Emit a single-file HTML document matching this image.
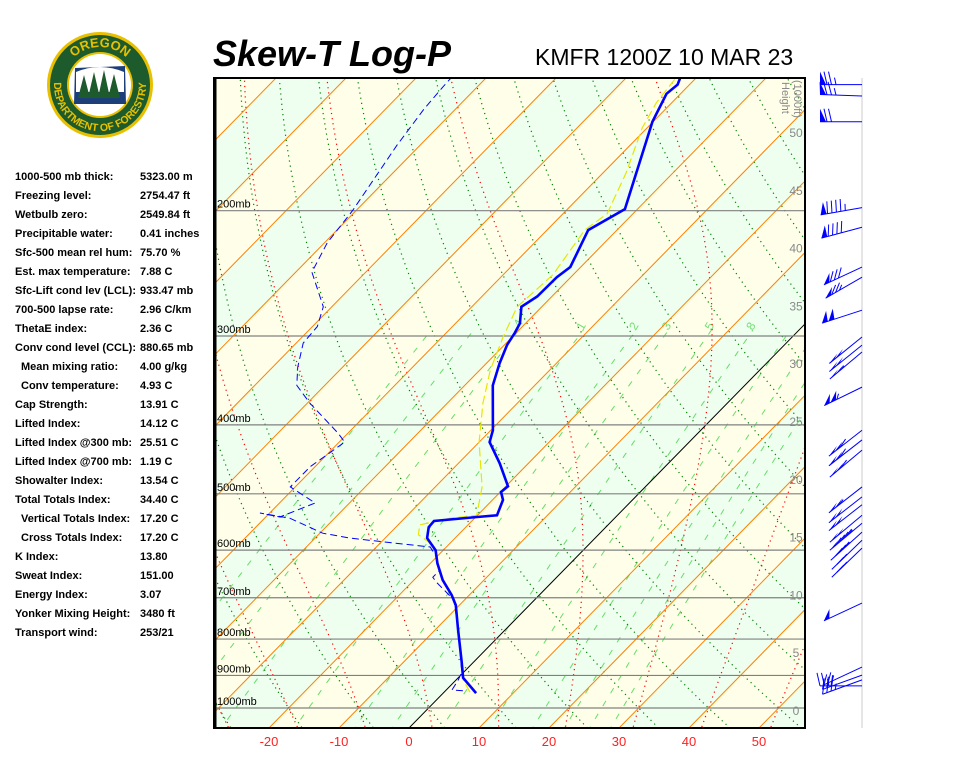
<!DOCTYPE html>
<html><head><meta charset="utf-8"><style>
body{margin:0;background:#fff;width:960px;height:768px;overflow:hidden;font-family:"Liberation Sans",sans-serif}
svg text{font-family:"Liberation Sans",sans-serif}
</style></head><body>
<svg id="chart" width="960" height="768" viewBox="0 0 960 768" xmlns="http://www.w3.org/2000/svg">
<defs>
<clipPath id="plotclip"><rect x="214" y="78" width="591" height="650"/></clipPath>
<path id="ringTop" d="M 62 85 A 38 38 0 0 1 138 85"/>
<path id="ringBot" d="M 56.8 69.3 A 46 46 0 1 0 143.2 69.3"/>
</defs>
<g>
<circle cx="100" cy="85" r="53" fill="#e8c000"/>
<circle cx="100" cy="85" r="50" fill="#1d5a2c"/>
<circle cx="100" cy="85" r="33" fill="#e8c000"/>
<circle cx="100" cy="85" r="31" fill="#fff"/>
<path d="M75 68 L125 66 L126 104 L74 104 Z" fill="#1c3f7a"/>
<path d="M76 72 Q100 62 124 72 L124 92 L76 92 Z" fill="#fff"/>
<path d="M78 98 L84 75 L90 98 Z M88 98 L94 72 L100 98 Z M98 98 L104 70 L110 98 Z M108 98 L114 74 L120 98 Z" fill="#1d5a2c"/>
<text font-size="13" font-weight="bold" fill="#e8c000" text-anchor="middle"><textPath href="#ringTop" startOffset="50%">OREGON</textPath></text>
<text font-size="10.5" font-weight="bold" fill="#e8c000" text-anchor="middle"><textPath href="#ringBot" startOffset="50%">DEPARTMENT OF FORESTRY</textPath></text>
</g>
<text x="213" y="66" font-size="36" font-weight="bold" font-style="italic" fill="#000">Skew-T Log-P</text>
<text x="535" y="65" font-size="23" fill="#000">KMFR 1200Z 10 MAR 23</text>
<g id="stats" font-size="11" font-weight="bold" fill="#000"></g>
<g id="plot" clip-path="url(#plotclip)"></g>
<g id="overlay"></g>
<line x1="862" y1="78" x2="862" y2="728" stroke="#ccc" stroke-width="1"/>
<rect x="214" y="78" width="591" height="650" fill="none" stroke="#000" stroke-width="2"/>
<line x1="215" y1="78" x2="215" y2="728" stroke="#000" stroke-width="3"/>
<g id="barbs"></g>
</svg>
<script>
// ---- data ----
const isobars = [1000, 900, 800, 700, 600, 500, 400, 300, 200];
const tempTicks = [-20, -10, 0, 10, 20, 30, 40, 50];
const heightTicks = [0, 5, 10, 15, 20, 25, 30, 35, 40, 45, 50];
const mixRatios = [0.1, 0.2, 0.4, 1, 2, 3, 5, 8, 12, 16, 20, 24];
const mixLabels = [0.4, 1, 2, 3, 5, 8];
const tempP = [953,907,862,777,717,694,661,626,600,577,557,546,539,536,510,497,488,453,423,407,352,328,309,297,288,273,264,248,240,213,199,150,137,133,130];
const tempT = [4.7,0.7,-1.7,-6.7,-10.5,-12.5,-15.9,-19.0,-21.1,-24.0,-25.3,-25.4,-19.8,-17.2,-18.5,-19.9,-19.7,-24.1,-28.5,-29.7,-36.0,-38.1,-39.6,-40.2,-40.8,-42.9,-42.1,-42.0,-41.5,-44.1,-41.8,-50.1,-52.0,-51.7,-52.3];
const dewP = [946,943,913,890,777,705,667,655,640,610,594,584,577,568,541,532,539,515,489,458,423,411,373,352,332,307,291,273,244,222,200,162,144,134,130];
const dewT = [2.5,0.8,0.3,-0.3,-6.7,-11.5,-16.3,-17.7,-17.7,-20.4,-22.3,-29.8,-35.0,-39.6,-46.4,-51.4,-48.0,-44.9,-50.7,-50.7,-49.2,-51.4,-59.6,-64.0,-66.4,-69.0,-69.3,-71.2,-77.7,-79.6,-80.5,-83.3,-84.5,-84.9,-85.0];
const wbP = [950,913,862,777,717,694,661,626,604,584,571,553,541,536,489,423,373,335,301,273,246,213,202,177,153,141,130];
const wbT = [3.7,1.0,-1.7,-6.7,-10.5,-12.5,-15.9,-19.0,-20.7,-23.3,-25.7,-26.9,-23.5,-20.1,-23.3,-30.0,-34.9,-38.5,-41.3,-43.5,-42.9,-44.6,-43.7,-46.7,-50.7,-52.2,-52.9];
const barbP = [133,138,150,198,211,240,248,276,301,309,316,354,407,420,434,489,505,518,536,550,566,581,596,712,876,899,913,931];
const barbDir = [270,272,270,260,255,245,240,252,231,231,230,244,232,232,230,232,232,232,230,230,228,226,226,245,245,250,250,270];
const barbSpd = [75,75,70,95,90,80,75,100,100,100,105,105,110,110,110,105,100,100,100,95,85,75,70,50,25,30,35,25];
const statLabels = ["1000-500 mb thick:","Freezing level:","Wetbulb zero:","Precipitable water:","Sfc-500 mean rel hum:","Est. max temperature:","Sfc-Lift cond lev (LCL):","700-500 lapse rate:","ThetaE index:","Conv cond level (CCL):","Mean mixing ratio:","Conv temperature:","Cap Strength:","Lifted Index:","Lifted Index @300 mb:","Lifted Index @700 mb:","Showalter Index:","Total Totals Index:","Vertical Totals Index:","Cross Totals Index:","K Index:","Sweat Index:","Energy Index:","Yonker Mixing Height:","Transport wind:"];
const statValues = ["5323.00 m","2754.47 ft","2549.84 ft","0.41 inches","75.70 %","7.88 C","933.47 mb","2.96 C/km","2.36 C","880.65 mb","4.00 g/kg","4.93 C","13.91 C","14.12 C","25.51 C","1.19 C","13.54 C","34.40 C","17.20 C","17.20 C","13.80","151.00","3.07","3480 ft","253/21"];
const statIndent = [0,0,0,0,0,0,0,0,0,0,1,1,0,0,0,0,0,0,1,1,0,0,0,0,0];

// ---- axes ----
const NS = "http://www.w3.org/2000/svg";
const Y = p => 708 + 309 * Math.log(p / 1000);
const X = (T, p) => 409 + 7 * T + 0.98 * (728 - Y(p));
const HY = h => 711 - 11.56 * h;
const plot = document.getElementById('plot');
const overlay = document.getElementById('overlay');
function mk(tag, attrs, parent) { const e = document.createElementNS(NS, tag); for (const k in attrs) e.setAttribute(k, attrs[k]); parent.appendChild(e); return e; }
function pathFrom(ps, ts) { return ps.map((p, i) => (i ? 'L' : 'M') + X(ts[i], p).toFixed(1) + ' ' + Y(p).toFixed(1)).join(' '); }
const pSamples = []; for (let lp = Math.log(1080); lp > Math.log(120); lp -= 0.02) pSamples.push(Math.exp(lp));

// stats panel
const stats = document.getElementById('stats');
statLabels.forEach((lab, i) => {
  const y = 180 + i * 19;
  const t1 = mk('text', { x: statIndent[i] ? 21 : 15, y: y }, stats); t1.textContent = lab;
  
  
  const t2 = mk('text', { x: 140, y: y }, stats); t2.textContent = statValues[i];
  
  
});

// background bands
for (let t = -130; t < 60; t += 10) {
  const k = Math.round(t / 10);
  const col = (k % 2 === 0) ? '#ffffe9' : '#eefff0';
  const pt = 120, pb = 1080;
  const d = `M${X(t,pb)} ${Y(pb)} L${X(t+10,pb)} ${Y(pb)} L${X(t+10,pt)} ${Y(pt)} L${X(t,pt)} ${Y(pt)} Z`;
  const b = mk('path', { d: d, fill: col }, plot);
  
  
}
// mixing ratio lines
const wTd = (w, p) => { const e = w * p / (622 + w); const l = Math.log(e / 6.112); return 243.5 * l / (17.67 - l); };
mixRatios.forEach(w => {
  const ps = pSamples.filter(p => p >= 290);
  const l = mk('path', { d: pathFrom(ps, ps.map(p => wTd(w, p))), fill: 'none', stroke: '#66dd66', 'stroke-width': 1, 'stroke-dasharray': '6,9' }, plot);
  
  
});
mixLabels.forEach(w => {
  const x = X(wTd(w, 300), 300) + 4, y = 331;
  const t = mk('text', { x: x, y: y, 'font-size': 12, fill: '#77dd77', transform: `rotate(-60 ${x} ${y})` }, plot);
  t.textContent = (w < 1 ? String(w).replace('0.', '.') : String(w));
  
  
});
// dry adiabats
for (let t0 = -60; t0 <= 180; t0 += 10) {
  const ts = pSamples.map(p => (t0 + 273.15) * Math.pow(p / 1000, 0.286) - 273.15);
  const l = mk('path', { d: pathFrom(pSamples, ts), fill: 'none', stroke: '#008000', 'stroke-width': 1.2, 'stroke-dasharray': '1.2,4' }, plot);
  
  
}
// moist adiabats
function dTdp(T, p) { const Tc = T - 273.15; const es = 6.112 * Math.exp(17.67 * Tc / (Tc + 243.5)); const rs = 0.622 * es / (p - es); const Lv = 2.5e6, Rd = 287, cp = 1004; return (Rd * T + Lv * rs) / (p * (cp + Lv * Lv * rs * 0.622 / (Rd * T * T))); }
for (let t0 = -30; t0 <= 50; t0 += 10) {
  const pts = [];
  let T = t0 + 273.15, p = 1000;
  while (p > 120) { pts.push([p, T - 273.15]); const dp = -4; T += dTdp(T, p) * dp; p += dp; }
  T = t0 + 273.15; p = 1000; const low = [];
  while (p < 1080) { const dp = 4; T += dTdp(T, p) * dp; p += dp; low.push([p, T - 273.15]); }
  const all = low.reverse().concat(pts);
  const l = mk('path', { d: pathFrom(all.map(a => a[0]), all.map(a => a[1])), fill: 'none', stroke: '#ff0000', 'stroke-width': 1.2, 'stroke-dasharray': '1.2,4' }, plot);
  
  
}
// isotherms
for (let t = -130; t <= 60; t += 10) {
  const l = mk('line', { x1: X(t, 1080), y1: Y(1080), x2: X(t, 120), y2: Y(120), stroke: t === 0 ? '#000' : '#ff8000', 'stroke-width': 1 }, plot);
  
  
}
// isobars
isobars.forEach(p => {
  const l = mk('line', { x1: 214, y1: Y(p), x2: 805, y2: Y(p), stroke: '#808080', 'stroke-width': 1.2 }, plot);
  
  
  const t = mk('text', { x: 217, y: Y(p) - 3, 'font-size': 11, fill: '#000' }, overlay);
  t.textContent = p + 'mb';
  
  
});
// height labels
heightTicks.forEach(h => {
  const t = mk('text', { x: 796, y: HY(h) + 4, 'font-size': 12, fill: '#888', 'text-anchor': 'middle' }, overlay);
  t.textContent = h;
  
  
});
const ht = mk('text', { x: 0, y: 0, 'font-size': 11, fill: '#888', transform: 'translate(782 82) rotate(90)' }, overlay);
ht.textContent = 'Height';


const ht2 = mk('text', { x: 0, y: 0, 'font-size': 11, fill: '#888', transform: 'translate(794 80) rotate(90)' }, overlay);
ht2.textContent = '(1000ft)';


// temperature ticks
tempTicks.forEach(t => {
  const e = mk('text', { x: 409 + 7 * t, y: 746, 'font-size': 13, fill: '#ff2020', 'text-anchor': 'middle' }, overlay);
  e.textContent = t;
  
  
});
// traces
const wb = mk('path', { d: pathFrom(wbP, wbT), fill: 'none', stroke: '#e6e600', 'stroke-width': 1.2, 'stroke-dasharray': '9,4' }, plot);


const dw = mk('path', { d: pathFrom(dewP, dewT), fill: 'none', stroke: '#0000ff', 'stroke-width': 1, 'stroke-dasharray': '7,4' }, plot);


const tp = mk('path', { d: pathFrom(tempP, tempT), fill: 'none', stroke: '#0000ff', 'stroke-width': 2.6 }, plot);


// wind barbs
const barbs = document.getElementById('barbs');
barbP.forEach((p, i) => {
  const g = mk('g', { stroke: '#0000ff', fill: '#0000ff', 'stroke-width': 1 }, barbs);
  
  
  const a = barbDir[i] * Math.PI / 180;
  const ux = Math.sin(a), uy = -Math.cos(a);
  const px = uy, py = ux; // perpendicular
  const x0 = 862, y0 = Y(p), L = 42;
  let ex = x0 + ux * L, ey = y0 + uy * L;
  mk('line', { x1: x0, y1: y0, x2: ex, y2: ey }, g);
  let s = barbSpd[i], pos = 0;
  while (s >= 50) {
    const bx = ex - ux * pos, by = ey - uy * pos;
    const cx = ex - ux * (pos + 6), cy = ey - uy * (pos + 6);
    mk('path', { d: `M${bx} ${by} L${bx + px * 13} ${by + py * 13} L${cx} ${cy} Z`, stroke: 'none' }, g);
    pos += 7; s -= 50;
  }
  while (s >= 10) {
    const bx = ex - ux * pos, by = ey - uy * pos;
    mk('line', { x1: bx, y1: by, x2: bx + px * 13 + ux * 3, y2: by + py * 13 + uy * 3 }, g);
    pos += 4.5; s -= 10;
  }
  if (s >= 5) {
    const bx = ex - ux * pos, by = ey - uy * pos;
    mk('line', { x1: bx, y1: by, x2: bx + px * 7 + ux * 1.5, y2: by + py * 7 + uy * 1.5 }, g);
  }
});
</script>
</body></html>
